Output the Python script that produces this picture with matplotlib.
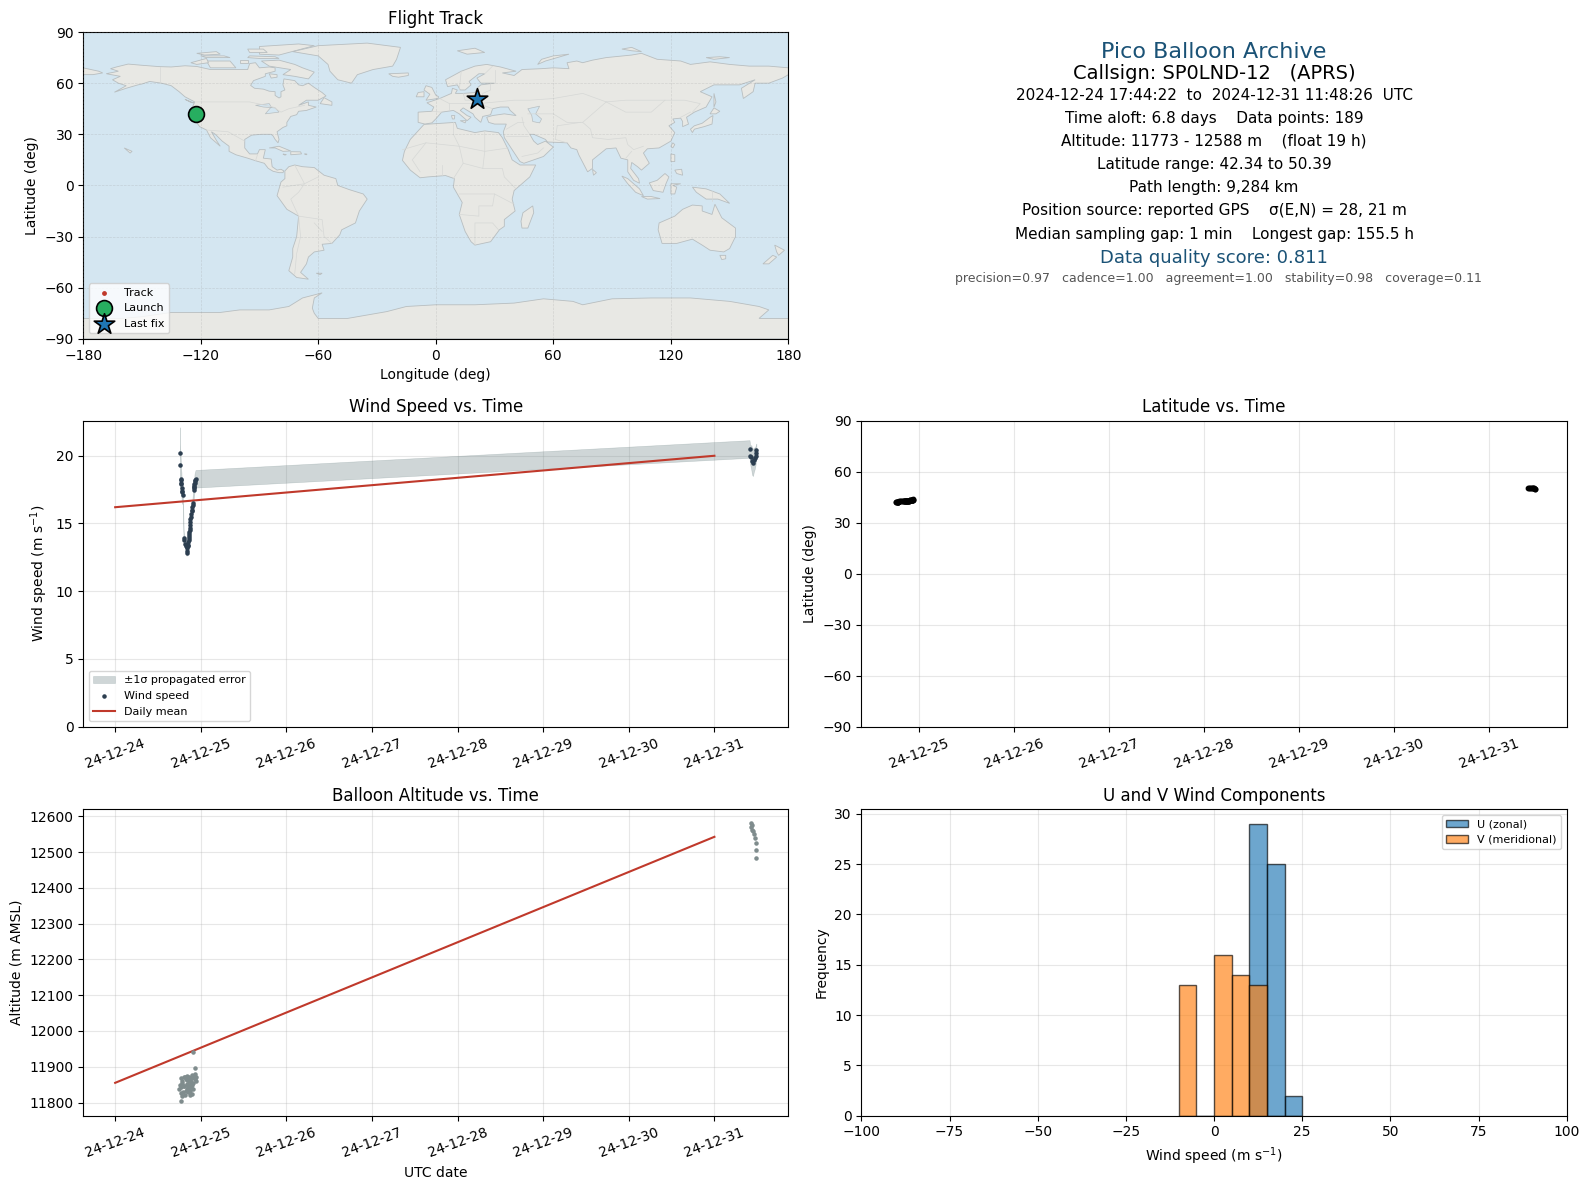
import matplotlib
matplotlib.use("Agg")
import matplotlib.pyplot as plt
import matplotlib.dates as mdates
import numpy as np
from datetime import datetime, timedelta

W, H = 1568.0, 1173.3  # layout reference space

# ------------------ data -------------------
wind_days = [.756,.757,.768,.769,.772,.774,.776,.778,.780,.790,.800,.805,.815,.825,.834,.838,.842,.846,.850,.853,
             .857,.859,.861,.864,.867,.870,.872,.875,.878,.880,.884,.888,.892,.896,.900,.904,.907,.919,.920,.922,
             .924,.926,.927,.930,.935,.939,
             7.41,7.42,7.43,7.44,7.45,7.46,7.47,7.48,7.485,7.49]
wind_speed = [20.2,19.3,18.3,18.2,18.0,17.9,17.6,17.4,17.3,17.1,13.9,13.8,13.5,13.3,12.8,13.0,13.2,13.3,13.4,13.6,
              13.8,13.9,14.1,14.2,14.4,14.5,14.7,14.9,15.1,15.3,15.5,15.7,15.9,16.0,16.2,16.4,16.5,17.5,17.6,17.7,
              17.8,17.9,18.0,18.1,18.2,18.3,
              20.5,20.0,19.9,19.6,19.5,19.7,19.8,20.0,20.2,20.4]
wind_sigma = [1.9,1.6,1.2,1.0,.9,.9,.8,.8,.8,.7,.5,.4,.3,.2,.2,.2,.2,.2,.3,.3,
              .3,.3,.3,.3,.3,.3,.3,.3,.4,.4,.4,.4,.5,.5,.5,.5,.6,.6,.6,.6,
              .6,.65,.65,.65,.65,.65,
              .65,.7,.9,1.0,1.0,.9,.8,.7,.6,.5]
latitude = [42.34,42.35,42.36,42.36,42.37,42.37,42.38,42.38,42.39,42.4,42.42,42.43,42.44,42.45,42.47,42.48,42.5,42.52,42.53,42.55,
            42.57,42.6,42.62,42.65,42.67,42.7,42.72,42.75,42.78,42.8,42.85,42.88,42.9,42.95,43.0,43.03,43.05,43.1,43.15,43.2,
            43.25,43.3,43.35,43.4,43.5,43.6,
            50.39,50.35,50.3,50.25,50.2,50.15,50.1,50.05,50.02,50.0]
longitude = [-122.9,-122.9,-122.8,-122.8,-122.8,-122.7,-122.7,-122.7,-122.7,-122.6,-122.6,-122.6,-122.6,-122.6,-122.5,-122.5,-122.5,-122.5,-122.5,-122.4,
             -122.4,-122.4,-122.4,-122.4,-122.3,-122.3,-122.3,-122.3,-122.3,-122.2,-122.2,-122.2,-122.2,-122.1,-122.1,-122.1,-122.1,-122.0,-122.0,-122.0,
             -122.0,-121.9,-121.9,-121.9,-121.8,-121.8,
             20.6,20.7,20.8,20.8,20.9,21.0,21.0,21.1,21.2,21.2]
altitude = [11838,11850,11826,11868,11805,11842,11860,11817,11855,11830,11872,11845,11822,11865,11838,11852,11875,11828,11843,11860,
            11835,11870,11820,11848,11862,11832,11858,11843,11876,11825,11850,11868,11838,11855,11845,11870,11833,11862,11850,11942,
            11873,11896,11865,11880,11860,11872,
            12582,12575,12570,12562,12558,12552,12540,12525,12505,12484]
altitude_days = [.745,.757,.768,.769,.772,.774,.776,.778,.780,.790,.800,.805,.815,.825,.834,.840,.845,.850,.855,.858,
                 .862,.866,.870,.873,.876,.880,.884,.888,.892,.896,.900,.903,.905,.908,.805,.815,.825,.834,.880,.908,
                 .918,.930,.935,.937,.939,.940,
                 7.43,7.44,7.43,7.44,7.45,7.46,7.47,7.48,7.485,7.49]
daily_days = [0, 7]
daily_wind = [16.2, 20.0]
daily_alt = [11855, 12543]
hist_left = [-10,-5,0,5,10,15,20]
u_counts = [0,0,0,0,29,25,2]
v_counts = [13,0,16,14,13,0,0]

launch = (-122.6, 42.2)
last_fix = (21.2, 50.5)

land_polys = [
 # North America
 [(-168,65.6),(-164,66.5),(-162,67),(-166,68.5),(-163,69.5),(-157,71.2),(-150,70.5),(-141,69.7),(-135,69.5),(-128,70.2),(-122,69.8),(-115,68),(-108,68),(-101,68),(-96,68),(-95,71.5),(-92,72),(-90,69),(-85,69.5),(-82,69),(-82,67),(-87,65.5),(-87,64),(-93,61.5),(-94.5,58.7),(-92.5,57),(-88,56.5),(-85,55.3),(-82,55),(-82,52.8),(-80,51.3),(-79,52),(-79,55),(-77,56),(-78,59),(-77.5,62.5),(-72,61.5),(-70,59),(-68,58.5),(-65,60),(-62,57.5),(-58,54.5),(-56,52.5),(-60,50),(-66,50),(-70,47),(-65,49),(-65,47),(-61,46),(-66,44),(-70,43.5),(-71,41.5),(-74,40.5),(-76,37),(-76,35),(-78,34),(-81,31.5),(-80,27),(-80.5,25),(-82,27),(-83,29),(-84,30),(-89,30),(-94,29.5),(-97.5,27),(-97.5,22),(-95,18.5),(-91,18.5),(-90,21),(-87,21),(-88,16),(-84,15.5),(-83.5,11),(-81,9),(-79,9.5),(-77.5,8.5),(-78,7.5),(-80,7.5),(-83,8.3),(-85.5,10),(-87.5,13),(-92,14.5),(-96,16),(-102,18),(-105.5,20),(-105.5,23),(-109,26),(-112.5,30),(-114.5,31.5),(-112,26.5),(-110,23),(-112,25),(-115,28),(-117,32.5),(-120.5,34.5),(-124,40),(-124,46.5),(-123,49),(-128,52),(-131,55),(-135,58.5),(-140,60),(-146,61),(-150,59.5),(-152,59),(-158,57),(-164,54.7),(-158,58.5),(-162,60),(-165,62),(-161,64),(-168,65.5)],
 [(-80,73.5),(-72,71),(-68,69),(-62,66.5),(-65,62.5),(-72,64),(-78,65),(-74,68),(-85,70),(-89,73)],
 [(-117,73),(-105,73),(-102,69),(-115,69)],
 [(-90,77),(-80,76.5),(-62,82),(-70,83),(-90,81.5)],
 [(-125,72),(-117,74.5),(-116,72),(-122,71)],
 [(-96,75),(-90,74.5),(-80,74.5),(-82,75.5),(-95,76)],
 [(-120,76),(-108,76),(-105,75),(-117,75)],
 [(-100,73.5),(-96,73.5),(-96,72),(-100,72)],
 [(-96,80),(-88,80),(-86,78),(-95,78)],
 [(-122,77.5),(-112,78.5),(-110,77),(-118,76.5)],
 [(-85,65.5),(-81,65),(-81,63.5),(-84,63)],
 [(-59,48),(-53,47),(-53,49),(-57,51.5)],
 [(-128,50.5),(-123.5,48.4),(-125,48.7)],
 [(-73,78.5),(-60,82),(-35,83.5),(-18,81),(-20,74),(-22,70),(-32,68),(-40,65),(-43,60),(-50,62),(-54,67),(-55,71),(-60,76)],
 [(-24,65.5),(-14,66),(-14,64.5),(-19,63.5),(-22,64)],
 [(-85,22),(-80,23),(-74,20.2),(-78,20),(-82,22)],
 [(-74,19.8),(-69,19.7),(-68.5,18.5),(-74,18)],
 [(-78,18.4),(-76.3,18.1),(-77,17.8)],
 [(-67,18.5),(-65.7,18.4),(-66,18)],
 [(-159,22),(-155,20),(-156,19)],
 # South America
 [(-77,8.5),(-75,11),(-72,12),(-68,11),(-62,10.5),(-57,6),(-51,4),(-50,0),(-44,-2.5),(-37,-5),(-35,-8),(-39,-15),(-41,-22),(-48,-26),(-49,-29),(-53,-34),(-58,-34.5),(-57,-38),(-62,-39),(-65,-42),(-66,-46),(-69,-51),(-65,-55),(-71,-54),(-75,-50),(-73,-42),(-73,-37),(-71,-30),(-70,-18),(-76,-14),(-81,-6),(-80,-2),(-79,2),(-77,4)],
 [(-61,-51.5),(-58,-51.5),(-59,-52.3)],
 # Eurasia
 [(-9,37),(-9,43),(-2,43.5),(-1,46),(-4.5,48.5),(2,51),(8,54),(8.5,57),(11,56),(10,54),(14,54),(20,54.5),(21,57),(23,59),(30,60),(23,60),(21,63),(25,65.5),(22,65.5),(17,61),(18,59),(15,56),(12.5,56),(11,59),(6,58),(5,62),(13,67),(20,70),(26,71),(33,69.5),(41,67),(34,66),(40,64.5),(44,68),(54,68.5),(60,69),(68,68.5),(67,72),(72,73),(75,72),(80,73.5),(87,75),(100,76.5),(105,77.5),(113,74),(125,73),(130,71),(140,72.5),(150,71),(160,70),(170,70),(180,69),(180,65),(177,63),(170,60),(163,60),(162,55),(157,51),(156,57),(163,62),(155,59),(142,59),(135,55),(141,52),(138,46),(132,43),(128,40),(129,36),(126,34.5),(126,37.5),(125,39.5),(121,39),(122,37),(119,35),(122,31),(120,26),(114,22),(108,21.5),(106,19),(109,13),(105,9),(103,11),(100,13.5),(99.5,10),(103.5,4),(104,1.3),(101,3),(98,8),(98,15),(94.5,16),(92,22),(87,21.5),(80,15),(80,10),(77.5,8),(73,18),(72,21),(69,22),(67,25),(57,25.5),(56,27),(50,30),(48,30),(50,26),(52,24),(56,26),(60,22.5),(55,17),(45,13),(43,14),(39,21),(35,28),(34.5,31.5),(36,36),(30,36),(27,37),(26,40),(29,41),(35,42),(41,41),(38,44),(37,46),(33,46),(29,45),(28,41.5),(24,40.5),(23,37),(20,40),(19,42),(14,45.5),(12.5,44),(16,41),(18,40),(16,38),(12,42),(9,44),(3,43),(0,39),(-2,36.7),(-5.5,36)],
 [(-180,69),(-172,67),(-170,66),(-175,65),(-180,65)],
 # Africa
 [(-6,35.8),(10,37),(11,33.5),(20,31),(25,32),(32,31),(34,28),(37,21),(39,15),(43,12),(51,12),(48,5),(40,-3),(39,-8),(40.5,-15),(35,-20),(35,-24),(32.5,-26),(28,-33),(20,-35),(18,-33),(15,-27),(12,-17),(13.5,-10),(9,-1),(9.5,4),(5,5.8),(-4,5),(-8,4.5),(-13,9),(-17,14.7),(-16,20),(-13,27),(-9,32)],
 [(49.5,-12),(50,-16),(47,-25),(44,-25),(43.5,-21),(44.5,-16)],
 [(-5,58.5),(-2,57.5),(0,53),(1.5,52),(1,51),(-5,50),(-3,53.5),(-6,56)],
 [(-10,52),(-6,52),(-6,55),(-9,54.5)],
 [(130,33),(132,35),(136,36.5),(140,40),(141.5,41),(141,36),(137,34.5),(132,33),(131,31)],
 [(140,42),(142,45.5),(145,43.5),(143,42)],
 [(142,54),(143,49),(142,46),(142,50)],
 [(120,23),(121,25),(122,24),(121,22)],
 [(120,18.5),(122,18),(122,14),(120,14)],
 [(122,9),(125.5,9.5),(126,6),(123,7)],
 [(80,9.5),(82,7.5),(80.5,6)],
 [(95,5.5),(98,4),(104,-2),(106,-6),(102,-4),(98,1)],
 [(105,-6.5),(110,-6.5),(114.5,-7.7),(108,-8)],
 [(109,1.5),(113,3),(117,7),(119,5),(117.5,1),(116,-4),(111,-3)],
 [(120,1),(125,1),(121,0),(123,-1),(122,-5),(120,-5)],
 [(131,-1),(138,-2),(145,-5),(150,-10.5),(144,-8),(138,-8),(133,-4)],
 [(114,-22),(113.5,-26),(115.5,-34),(123,-34),(131,-31.5),(136,-35),(140,-38),(147,-39),(150,-37),(153,-30),(153,-25),(146,-19),(142.5,-11),(141,-17),(136,-15),(136,-12),(131,-11.5),(126,-14),(122,-18)],
 [(145,-41),(148,-41),(148,-43),(146,-43.5)],
 [(173,-35),(178,-38),(175,-41),(174,-39)],
 [(172,-41),(174,-42),(170,-46),(167,-46)],
 [(52,71),(56,73),(68,77),(60,76),(54,74)],
 [(11,79),(20,80.5),(25,78),(16,77)],
 [(95,80),(100,79),(105,78.5),(100,81)],
 [(138,75),(145,75.5),(150,75),(142,74)],
 [(8,41),(9.7,41),(9.5,39),(8.5,39)],
 [(12.5,38),(15.5,38),(15,36.7)],
 [(-180,-90),(-180,-78),(-160,-78),(-150,-77),(-135,-74.5),(-110,-74.5),(-100,-73),(-85,-73),(-75,-71),(-68,-66),(-58,-63),(-62,-66),(-63,-72),(-62,-75),(-60,-78),(-45,-78),(-35,-76),(-25,-74),(-15,-71),(0,-70),(20,-70),(40,-69),(55,-66.5),(70,-68),(75,-70),(90,-66.5),(110,-66),(130,-66),(150,-68),(165,-71),(170,-73),(165,-78),(180,-78),(180,-90)],
]
water_polys = [
 [(47,45),(53,46.5),(51,42),(54,39),(53,36.7),(49.5,37.5),(49,41)],
 [(-92,47),(-85,48),(-84,46),(-87,42),(-80,43),(-82,45.5),(-88,46)],
]
border_lines = [
 [(-141,69.7),(-141,60)],[(-123,49),(-95,49),(-83,46),(-79,43),(-75,45),(-67,47)],
 [(-117,32.5),(-106,31.5),(-97.5,26)],[(-92,14.5),(-91,18)],[(-70,-18),(-58,-20),(-57,-30),(-53,-34)],
 [(-70,-18),(-74,-8),(-70,-4),(-67,1),(-60,5)],[(-70,-18),(-69,-30),(-71,-40),(-72,-52)],
 [(-72,12),(-67,1),(-78,-1)],[(-62,-22),(-58,-27)],
 [(-17,21),(-5,25),(12,23),(25,20),(37,22)],[(25,32),(25,20),(24,10),(34,10),(35,5),(41,-2)],
 [(9,37),(9,30),(12,23),(14,13),(9,4)],[(-5,25),(-12,15),(-8,8)],[(3,12),(3,6)],[(14,13),(24,10)],
 [(12,-5),(30,-5),(29,-12),(22,-12),(22,-18),(12,-17)],[(30,-5),(40,-11)],[(20,-35),(20,-22),(29,-22),(32,-26)],
 [(-2,43.5),(3,43)],[(2,51),(7,48),(7,44)],[(7,48),(14,48),(17,48),(22,48),(29,45)],
 [(14,54),(15,50),(23,50),(24,54),(28,56),(28,60)],[(22,48),(40,50),(48,50),(60,51),(75,54),(87,49),(97,50),(106,50),(117,50),(127,50),(135,48),(131,43)],
 [(47,42),(60,42),(67,37),(75,37),(80,42),(87,49)],[(62,35),(61,27)],[(62,35),(74,37)],[(61,27),(67,25)],[(75,37),(79,33),(80,28),(88,27),(97,28),(98,24),(101,21),(106,23)],
 [(48,30),(45,35),(44,40)],[(36,33),(42,37),(45,37)],[(36,29),(47,29)],[(44,17),(52,19),(55,22)],
 [(12,56),(13,67)],[(25,65.5),(29,70)],[(30,60),(30,68)],[(125,40),(130,43)],
 [(117,50),(110,43),(97,43),(87,49)],[(97,16),(100,20)],[(141,-3),(141,-9)],
]
track_color = "#c0392b"

# ------------------ helpers -----------------
t0 = datetime(2024, 12, 24)
def to_dates(days):
    return [t0 + timedelta(days=float(d)) for d in days]

def make_ax(x0, x1, y0, y1):
    return fig.add_axes([x0 / W, 1 - y1 / H, (x1 - x0) / W, (y1 - y0) / H])

def style_time(ax):
    ax.xaxis.set_major_locator(mdates.DayLocator())
    ax.xaxis.set_major_formatter(mdates.DateFormatter("%y-%m-%d"))
    ax.tick_params(axis="x", labelrotation=20)
    ax.grid(True, color="#b0b0b0", alpha=0.3, lw=0.8)
    ax.set_axisbelow(True)

fig = plt.figure(figsize=(15.89, 11.89), dpi=100)

# ------------------ map ---------------------
ax = make_ax(82, 778, 31.6, 334.4)
ax.set_facecolor("#d4e6f1")
for poly in land_polys:
    p = np.array(poly)
    ax.fill(p[:, 0], p[:, 1], facecolor="#e8e8e4", edgecolor="#b8bec0", lw=0.6, zorder=1)
for poly in water_polys:
    p = np.array(poly)
    ax.fill(p[:, 0], p[:, 1], facecolor="#d4e6f1", edgecolor="#b8bec0", lw=0.5, zorder=1.1)
for line in border_lines:
    p = np.array(line)
    ax.plot(p[:, 0], p[:, 1], color="#d6d8d6", lw=0.5, zorder=1.2)
ax.scatter(longitude, latitude, s=6, color=track_color, zorder=3, label="Track")
ax.scatter([launch[0]], [launch[1]], s=130, color="#27ae60", edgecolor="black", lw=1.2, zorder=4, label="Launch")
ax.scatter([last_fix[0]], [last_fix[1]], s=240, marker="*", color="#1f77b4", edgecolor="black", lw=1.2, zorder=5, label="Last fix")
ax.set_xlim(-180, 180)
ax.set_ylim(-90, 90)
ax.set_xticks(np.arange(-180, 181, 60))
ax.set_yticks(np.arange(-90, 91, 30))
ax.grid(True, color="#909090", alpha=0.25, lw=0.5, ls="--", zorder=2)
ax.set_axisbelow(False)
ax.set_xlabel("Longitude (deg)")
ax.set_ylabel("Latitude (deg)")
ax.set_title("Flight Track", fontsize=12)
ax.legend(loc="lower left", fontsize=8, framealpha=0.8)

# ------------------ info text ---------------
def info(y, s, x=1198, **kw):
    fig.text(x / W, 1 - (y + 1) / H, s, ha="center", va="center", **kw)

info(50, "Pico Balloon Archive", fontsize=16, color="#1a5276")
info(72, "Callsign: SP0LND-12   (APRS)", fontsize=14, color="black")
for y, s in [(93, "2024-12-24 17:44:22  to  2024-12-31 11:48:26  UTC"),
             (116, "Time aloft: 6.8 days    Data points: 189"),
             (138.5, "Altitude: 11773 - 12588 m    (float 19 h)"),
             (161, "Latitude range: 42.34 to 50.39"),
             (184, "Path length: 9,284 km"),
             (207, "Position source: reported GPS    σ(E,N) = 28, 21 m"),
             (230, "Median sampling gap: 1 min    Longest gap: 155.5 h")]:
    info(y, s, fontsize=11, color="black")
info(254, "Data quality score: 0.811", fontsize=13, color="#1a5276")
info(274, "precision=0.97   cadence=1.00   agreement=1.00   stability=0.98   coverage=0.11",
     x=1202, fontsize=9, color="#555555")

# ------------------ wind speed --------------
ax = make_ax(82, 778, 415, 717)
wt = to_dates(wind_days)
wv = np.array(wind_speed)
ws = np.array(wind_sigma)
ax.fill_between(wt, wv - ws, wv + ws, color="#6b8284", alpha=0.32, lw=0.4, label="±1σ propagated error")
ax.scatter(wt, wv, s=5, color="#2c3e50", zorder=3, label="Wind speed")
ax.plot(to_dates(daily_days), daily_wind, color="#c0392b", lw=1.5, label="Daily mean")
ax.set_ylim(0, 22.6)
ax.set_ylabel("Wind speed (m s$^{-1}$)")
ax.set_title("Wind Speed vs. Time", fontsize=12)
style_time(ax)
ax.legend(loc="lower left", fontsize=8)

# ------------------ latitude ----------------
ax = make_ax(850, 1546, 415, 717)
ax.scatter(wt, latitude, s=10, color="black", zorder=3)
ax.set_xlim(to_dates([0.39])[0], to_dates([7.82])[0])
ax.set_ylim(-90, 90)
ax.set_yticks(np.arange(-90, 91, 30))
ax.set_ylabel("Latitude (deg)")
ax.set_title("Latitude vs. Time", fontsize=12)
style_time(ax)

# ------------------ altitude ----------------
ax = make_ax(82, 778, 798.6, 1101)
ax.scatter(to_dates(altitude_days), altitude, s=5, color="#7f8c8d", zorder=3)
ax.plot(to_dates(daily_days), daily_alt, color="#c0392b", lw=1.5)
ax.set_ylim(11763, 12620)
ax.set_xlabel("UTC date")
ax.set_ylabel("Altitude (m AMSL)")
ax.set_title("Balloon Altitude vs. Time", fontsize=12)
style_time(ax)

# ------------------ histogram ---------------
ax = make_ax(850, 1546, 798.6, 1101)
ax.bar(hist_left, u_counts, width=5, align="edge", color="#1f77b4", edgecolor="black", alpha=0.65, lw=1, label="U (zonal)")
ax.bar(hist_left, v_counts, width=5, align="edge", color="#ff7f0e", edgecolor="black", alpha=0.65, lw=1, label="V (meridional)")
ax.set_xlim(-100, 100)
ax.set_ylim(0, 30.45)
ax.set_xlabel("Wind speed (m s$^{-1}$)")
ax.set_ylabel("Frequency")
ax.set_title("U and V Wind Components", fontsize=12)
ax.grid(True, color="#b0b0b0", alpha=0.3, lw=0.8)
ax.set_axisbelow(True)
ax.legend(loc="upper right", fontsize=8)

fig.savefig("out.png", dpi=100)
